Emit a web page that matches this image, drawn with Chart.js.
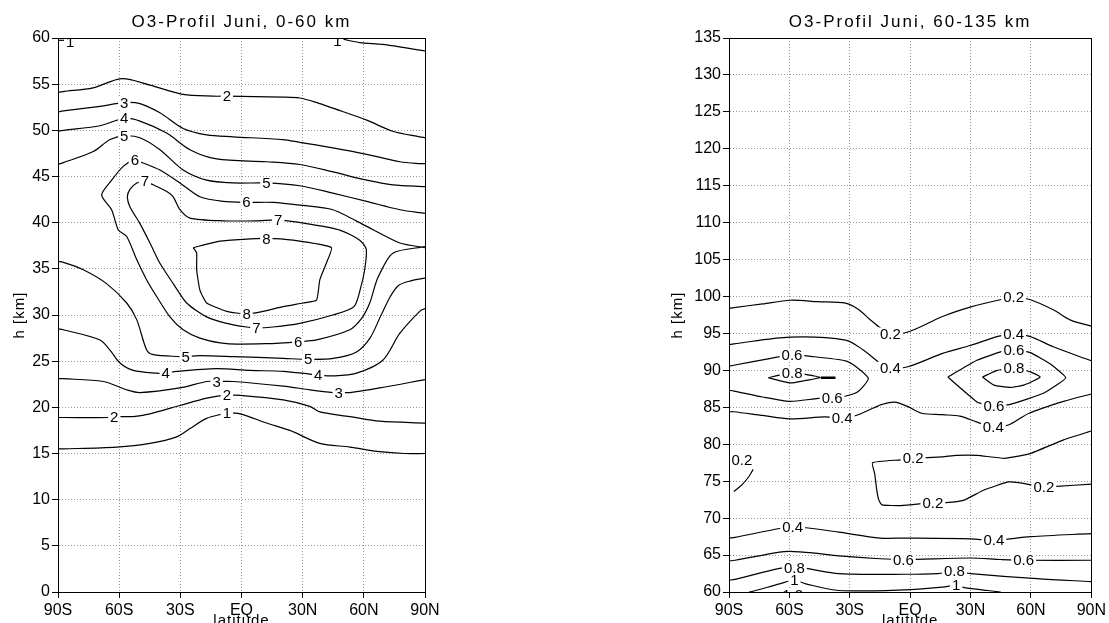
<!DOCTYPE html>
<html><head><meta charset="utf-8">
<script src="https://cdn.jsdelivr.net/npm/chart.js@4/dist/chart.umd.min.js"></script>
<style>
html,body{margin:0;padding:0;background:#fff;overflow:hidden;width:1109px;height:623px}
canvas{position:absolute;top:0}
#cl{left:0}
#cr{left:630px}
</style></head>
<body>
<canvas id="cl" width="450" height="623"></canvas>
<canvas id="cr" width="479" height="623"></canvas>
<script>
// ---------- axes ----------
const latTicks = [-90,-60,-30,0,30,60,90];
const latLabels = ['90S','60S','30S','EQ','30N','60N','90N'];
const leftRange = [0,60];
const rightRange = [60,135];
const leftTitle = 'O3-Profil Juni, 0-60 km';
const rightTitle = 'O3-Profil Juni, 60-135 km';
const yTitle = 'h [km]';
const xTitle = 'latitude';

// ---------- left panel contours [lat, h] ----------
const L1_topLeft = [[-89.7,59.75],[-86.8,59.75]];
const L1_topRight = [[43.5,60.05],[48.8,59.9],[58,59.5],[69.2,59.3],[80,58.95],[90,58.6]];
const L2_upper = [[-90,54.1],[-87.6,54.2],[-72.8,54.6],[-58.8,55.6],[-44.9,54.9],[-28.7,53.9],[-14,53.7],[-7.2,53.7],[20.2,53.6],[28.6,53.5],[37,53.0],[44.8,52.4],[61.4,51.1],[74.2,49.9],[87.4,49.3],[90,49.2]];
const L3_upper = [[-90,52.0],[-87.4,52.1],[-69.4,52.6],[-57.5,53.0],[-49.8,52.9],[-40,51.9],[-28.6,50.2],[-17.1,49.5],[-4.1,49.3],[20.2,49.0],[28.6,48.7],[44.8,48.1],[61.4,47.4],[77.7,46.6],[87.4,46.4],[90,46.4]];
const L4_upper = [[-90,49.9],[-87.4,50.0],[-69.4,50.5],[-57.5,51.3],[-49.8,51.0],[-36.7,49.7],[-25.3,47.9],[-12.2,46.9],[12.2,46.6],[28.6,46.3],[44.8,45.5],[61.4,44.6],[74.2,44.1],[90,43.9]];
const L5_upper = [[-90,46.3],[-87.4,46.5],[-72.7,47.7],[-64.5,49.0],[-57.5,49.4],[-49.8,49.2],[-40,47.9],[-28.6,45.7],[-17.1,44.6],[-4.1,44.3],[12.2,44.3],[28.6,44.0],[44.8,43.2],[61.4,42.3],[77.7,41.4],[90,41.0]];
const L6 = [[90,37.3],[77.7,37.8],[61.4,39.6],[44.8,41.4],[28.6,41.9],[15.5,42.2],[2.4,42.2],[-9,42.3],[-20.4,42.8],[-30.2,44.3],[-40,45.7],[-49.8,46.6],[-52.3,46.8],[-58,46.1],[-63.7,44.6],[-68.6,43.0],[-63.7,41.4],[-60.4,39.2],[-56.3,38.5],[-51.4,36.0],[-46.5,33.8],[-41.6,32.0],[-35.1,29.8],[-28.6,28.4],[-20.4,27.5],[-7.3,26.9],[12.2,26.9],[27.8,27.1],[36.8,27.3],[53.1,28.4],[58.8,29.6],[62.9,31.3],[66.8,34.0],[74.2,36.7],[90,37.4]];
const L7 = [[-47.4,44.5],[-43.3,44.1],[-36.8,43.4],[-33.5,42.8],[-30.2,41.4],[-25.3,40.5],[-9.0,40.2],[7.4,40.2],[18.0,40.3],[31.9,39.9],[48.2,39.2],[58.0,38.1],[61.2,37.1],[60.4,34.9],[58.5,33.0],[55.2,30.9],[44.8,30.0],[28.6,29.1],[15.5,28.7],[7.3,28.6],[2.5,28.7],[-7.3,29.1],[-17.1,29.8],[-26.9,31.3],[-33.5,33.4],[-40.0,35.6],[-44.9,37.8],[-49.8,39.9],[-54.7,41.7],[-56.0,42.8],[-54.7,43.6],[-51.4,44.3],[-47.4,44.5]];
const L8 = [[-23.7,37.3],[-10.6,38.0],[0.8,38.2],[12.2,38.3],[25.3,38.1],[44.1,37.3],[41.6,35.6],[38.4,33.8],[36.8,31.6],[30.2,31.3],[20.4,30.9],[10.6,30.4],[2.5,30.1],[-7.3,30.4],[-17.1,31.3],[-20.4,32.7],[-22.0,34.9],[-22.0,36.7],[-23.7,37.3]];
const L5_lower = [[-90,35.8],[-87.4,35.7],[-77.6,34.9],[-66.2,33.4],[-56.3,31.3],[-51.4,29.5],[-46.5,26.2],[-43.3,25.7],[-30.2,25.5],[-27.4,25.5],[-20.4,25.6],[-4.1,25.5],[20.5,25.3],[32.7,25.2],[45,25.3],[56.4,26.0],[63,27.5],[68.5,30.0],[73,32.0],[77,33.2],[83,33.7],[90,34.0]];
const L4_lower = [[-90,28.5],[-87.4,28.4],[-69.4,27.3],[-64.5,26.2],[-59.6,24.8],[-53.1,24.0],[-41.6,23.7],[-37.2,23.7],[-31.8,23.9],[-12.2,24.2],[4.1,24.0],[20.5,23.9],[33.5,23.6],[37.6,23.5],[44.9,23.4],[56.4,23.7],[69.3,25.1],[77.6,28.0],[87.4,30.4],[90,30.7]];
const L3_lower = [[-90,23.1],[-87.4,23.1],[-67.8,22.8],[-56.3,21.9],[-49.8,21.6],[-30.2,22.1],[-17.1,22.8],[-12.2,22.8],[-4.1,22.8],[20.5,22.3],[33.5,21.9],[44.9,21.6],[47.7,21.6],[53.1,21.6],[67.8,22.1],[90,23.0]];
const L2_lower = [[-90,18.9],[-87.4,18.9],[-64.5,18.9],[-62.4,19.0],[-53.1,19.0],[-44.9,19.3],[-30.2,20.2],[-17.1,21.0],[-9.0,21.3],[-7.2,21.3],[-0.7,21.3],[20.5,20.8],[33.5,20.1],[38.4,19.5],[53.1,19.0],[67.8,18.5],[90,18.3]];
const L1_lower = [[-90,15.5],[-87.4,15.5],[-61.2,15.7],[-44.9,16.1],[-31.8,16.8],[-25.3,17.7],[-17.1,18.8],[-9.0,19.3],[-7.2,19.4],[-0.7,19.3],[12.3,18.3],[23.7,17.5],[38.4,16.1],[53.1,15.7],[67.8,15.2],[80,15.0],[90,15.0]];
const leftLabels = [[-84,59.6,'1'],[47,59.7,'1'],[-7.2,53.7,'2'],[-57.5,53.0,'3'],[-57.5,51.3,'4'],[-57.5,49.4,'5'],[-52.3,46.8,'6'],[-47.4,44.5,'7'],[12.2,44.3,'5'],[2.4,42.2,'6'],[18.0,40.3,'7'],[12.2,38.3,'8'],[2.5,30.1,'8'],[7.3,28.6,'7'],[27.8,27.1,'6'],[-27.4,25.5,'5'],[32.7,25.2,'5'],[-37.2,23.7,'4'],[37.6,23.5,'4'],[-12.2,22.8,'3'],[47.7,21.6,'3'],[-62.4,19.0,'2'],[-7.2,21.3,'2'],[-7.2,19.4,'1']];

// ---------- right panel contours [lat, h] ----------
const R02_upper = [[-90,98.4],[-87.6,98.5],[-73.3,99.0],[-59.6,99.5],[-45.8,99.3],[-32.1,99.1],[-26,98.3],[-20,96.9],[-14.5,95.7],[-9.8,95.0],[-1.1,95.2],[16.1,97.3],[30.2,98.6],[43.6,99.5],[51.4,99.9],[59.4,99.6],[71.1,98.2],[79.7,96.8],[90,96.0]];
const R04_upper = [[-90,93.5],[-87.6,93.6],[-59.6,94.5],[-32.1,94.1],[-23.5,92.8],[-14.9,91.0],[-9.8,90.4],[-1.1,90.5],[16.1,92.3],[30.2,93.4],[43.6,94.6],[51.4,94.9],[59.4,94.6],[71.1,93.2],[90,91.3]];
const R06_left = [[-90,90.6],[-87.6,90.7],[-69.9,91.6],[-58.7,92.1],[-49.3,91.9],[-32.1,91.3],[-26.9,90.5],[-20.8,88.9],[-26,87.1],[-33.8,86.4],[-38.8,86.3],[-45.8,86.2],[-59.8,85.8],[-73.3,86.4],[-87.6,87.2],[-90,87.3]];
const R08_left = [[-70.5,89.0],[-63,89.5],[-58.6,89.7],[-52.7,89.5],[-44.5,89.05],[-52.7,88.6],[-59.6,88.3],[-70.5,89.0]];
const R08_leftBar = [[-44.3,89.0],[-37.1,89.0]];
const R04_mid = [[-90,84.4],[-87.6,84.4],[-73.3,83.9],[-59.8,83.45],[-42.4,83.7],[-33.8,83.6],[-26.9,83.9],[-18.3,84.9],[-14,85.4],[-7.8,85.7],[-1.1,85.1],[5.8,84.2],[16.1,84.0],[24.7,83.8],[33.3,83.0],[41.3,82.3],[48.7,82.6],[59.1,84.2],[76.2,85.8],[90,86.8]];
const R06_right = [[18.7,89.1],[33.4,91.4],[44.9,92.5],[51.5,92.8],[59.7,92.4],[69.5,90.9],[77.3,89.0],[66.2,86.9],[49.8,85.4],[41.6,85.2],[33.4,85.7],[18.7,89.1]];
const R08_right = [[35.9,89.1],[43.3,90.0],[51.5,90.3],[59.7,89.8],[64.6,89.1],[56.4,88.0],[49.8,87.7],[41.6,88.0],[35.9,89.1]];
const R02_leftSmall = [[-87.6,73.6],[-83.6,74.5],[-80.2,75.6],[-78.0,76.6]];
const R02_mid = [[90,81.8],[76.2,80.6],[59.1,78.7],[47.0,78.1],[33.3,78.5],[23,78.5],[16.1,78.3],[1.5,78.1],[-4.6,77.9],[-18.7,77.5],[-17.6,76.0],[-16.6,73.8],[-15.5,72.4],[-14.0,71.8],[-4.6,71.7],[11.3,72.1],[17.8,72.1],[26.4,72.4],[36.7,73.8],[48.7,74.9],[53.9,74.8],[66.4,74.2],[72.8,74.3],[90,74.6]];
const R04_low = [[-90,67.3],[-87.0,67.4],[-64.9,68.6],[-58.4,68.8],[-51.8,68.7],[-35.4,68.1],[-15,67.3],[-2.6,67.3],[30.1,67.2],[41.6,67.0],[60,67.5],[90,67.9]];
const R06_low = [[-90,64.2],[-87.0,64.3],[-64.9,65.4],[-59.9,65.5],[-48.5,65.3],[-35.4,64.9],[-15,64.5],[-3.4,64.4],[30.1,64.6],[45,64.4],[56.4,64.3],[90,64.3]];
const R08_low = [[-90,61.6],[-87.0,61.7],[-64.9,63.2],[-57.5,63.3],[-51.8,63.2],[-35.4,62.5],[-2.6,62.4],[13.8,62.5],[22.0,62.8],[30.1,62.5],[63.0,61.8],[90,61.4]];
const R1_low = [[-80,60.0],[-78.0,60.1],[-64.9,61.1],[-57.5,61.6],[-51.8,61.1],[-35.4,60.2],[-2.6,60.3],[17.1,60.7],[22.8,60.9],[26.9,60.6],[38.4,60.2],[45,60.0]];
const rightLabels = [[-9.8,95.0,'0.2'],[51.4,99.9,'0.2'],[-9.8,90.4,'0.4'],[51.4,94.9,'0.4'],[-58.7,92.1,'0.6'],[-58.6,89.7,'0.8'],[-38.8,86.3,'0.6'],[-33.8,83.6,'0.4'],[51.5,92.8,'0.6'],[51.5,90.3,'0.8'],[41.6,85.2,'0.6'],[41.3,82.3,'0.4'],[-83.6,77.9,'0.2'],[1.5,78.1,'0.2'],[11.3,72.1,'0.2'],[66.4,74.2,'0.2'],[-58.4,68.8,'0.4'],[41.6,67.0,'0.4'],[-3.4,64.4,'0.6'],[56.4,64.3,'0.6'],[-57.5,63.3,'0.8'],[22.0,62.8,'0.8'],[-57.5,61.6,'1'],[22.8,60.9,'1'],[-58.4,59.6,'1.2']];

// ---------- rendering ----------
const FONT = '"Liberation Sans", Arial, sans-serif';
Chart.defaults.font.family = FONT;
Chart.defaults.color = '#000';

function ds(pts, tension, width) {
  return {data: pts.map(p => ({x: p[0], y: p[1]})), showLine: true, pointRadius: 0,
    borderColor: '#000', borderWidth: width || 1.2, tension: tension, fill: false};
}

function decorPlugin(labels, title, yTitleX) {
  return {
    id: 'decor',
    afterDatasetsDraw(chart) {
      const {ctx, chartArea: a, scales: {x, y}} = chart;
      ctx.save();
      ctx.beginPath(); ctx.rect(a.left, a.top, a.right - a.left, a.bottom - a.top); ctx.clip();
      ctx.font = '15px ' + FONT;
      ctx.textAlign = 'center'; ctx.textBaseline = 'middle';
      for (const [lat, h, t] of labels) {
        const px = x.getPixelForValue(lat), py = y.getPixelForValue(h);
        const w = ctx.measureText(t).width;
        ctx.fillStyle = '#fff'; ctx.fillRect(px - w / 2 - 2, py - 6, w + 4, 12);
        ctx.fillStyle = '#000'; ctx.fillText(t, px, py + 1);
      }
      ctx.restore();
    },
    afterDraw(chart) {
      const {ctx, chartArea: a} = chart;
      ctx.save();
      ctx.strokeStyle = '#000'; ctx.lineWidth = 1;
      ctx.strokeRect(Math.round(a.left) + 0.5, Math.round(a.top) + 0.5, Math.round(a.right - a.left), Math.round(a.bottom - a.top));
      ctx.fillStyle = '#000';
      ctx.textAlign = 'center';
      if ('letterSpacing' in ctx) ctx.letterSpacing = '2px';
      ctx.font = '17px ' + FONT;
      ctx.textBaseline = 'middle';
      ctx.fillText(title, (a.left + a.right) / 2, 22);
      ctx.font = '15px ' + FONT;
      if ('letterSpacing' in ctx) ctx.letterSpacing = '1px';
      ctx.textBaseline = 'top';
      ctx.fillText(xTitle, (a.left + a.right) / 2, 613);
      ctx.translate(yTitleX, (a.top + a.bottom) / 2);
      ctx.rotate(-Math.PI / 2);
      ctx.textBaseline = 'middle';
      ctx.fillText(yTitle, 0, 0);
      ctx.restore();
    }
  };
}

function makeChart(id, datasets, labels, range, title, yWidth, rightPad, yTitleX) {
  return new Chart(document.getElementById(id), {
    type: 'scatter',
    data: {datasets: datasets},
    options: {
      responsive: false, animation: false, events: [],
      layout: {padding: {top: 38, right: rightPad, left: 0, bottom: 0}},
      plugins: {legend: {display: false}, tooltip: {enabled: false}, title: {display: false}},
      scales: {
        x: {
          type: 'linear', min: -90, max: 90,
          afterBuildTicks: s => { s.ticks = latTicks.map(v => ({value: v})); },
          afterFit: s => { s.height = 31; },
          ticks: {callback: v => latLabels[latTicks.indexOf(v)], font: {size: 16}, color: '#000', padding: 3, maxRotation: 0, autoSkip: false},
          grid: {color: '#999', lineWidth: 1, tickLength: 6, tickColor: '#000', tickBorderDash: [], tickWidth: 1},
          border: {display: true, color: '#000', width: 1, dash: [1, 2]}
        },
        y: {
          type: 'linear', min: range[0], max: range[1],
          afterFit: s => { s.width = yWidth; },
          ticks: {stepSize: 5, font: {size: 16}, color: '#000', padding: 2, autoSkip: false},
          grid: {color: '#999', lineWidth: 1, tickLength: 6, tickColor: '#000', tickBorderDash: [], tickWidth: 1},
          border: {display: true, color: '#000', width: 1, dash: [1, 2]}
        }
      }
    },
    plugins: [decorPlugin(labels, title, yTitleX)]
  });
}

const T = 0.3;
const leftSets = [
  ds(L1_topLeft, 0), ds(L1_topRight, T), ds(L2_upper, T), ds(L3_upper, T), ds(L4_upper, T), ds(L5_upper, T),
  ds(L6, 0.25), ds(L7, 0.25), ds(L8, 0.15), ds(L5_lower, T), ds(L4_lower, T), ds(L3_lower, T), ds(L2_lower, T), ds(L1_lower, T)
];
const rightSets = [
  ds(R02_upper, T), ds(R04_upper, T), ds(R06_left, 0.2), ds(R08_left, 0.15), ds(R08_leftBar, 0, 2.5),
  ds(R04_mid, T), ds(R06_right, 0.12), ds(R08_right, 0.15), ds(R02_leftSmall, T), ds(R02_mid, 0.15),
  ds(R04_low, T), ds(R06_low, T), ds(R08_low, T), ds(R1_low, T)
];
makeChart('cl', leftSets, leftLabels, leftRange, leftTitle, 58, 25, 20);
makeChart('cr', rightSets, rightLabels, rightRange, rightTitle, 99, 14, 48);
</script>
</body></html>
